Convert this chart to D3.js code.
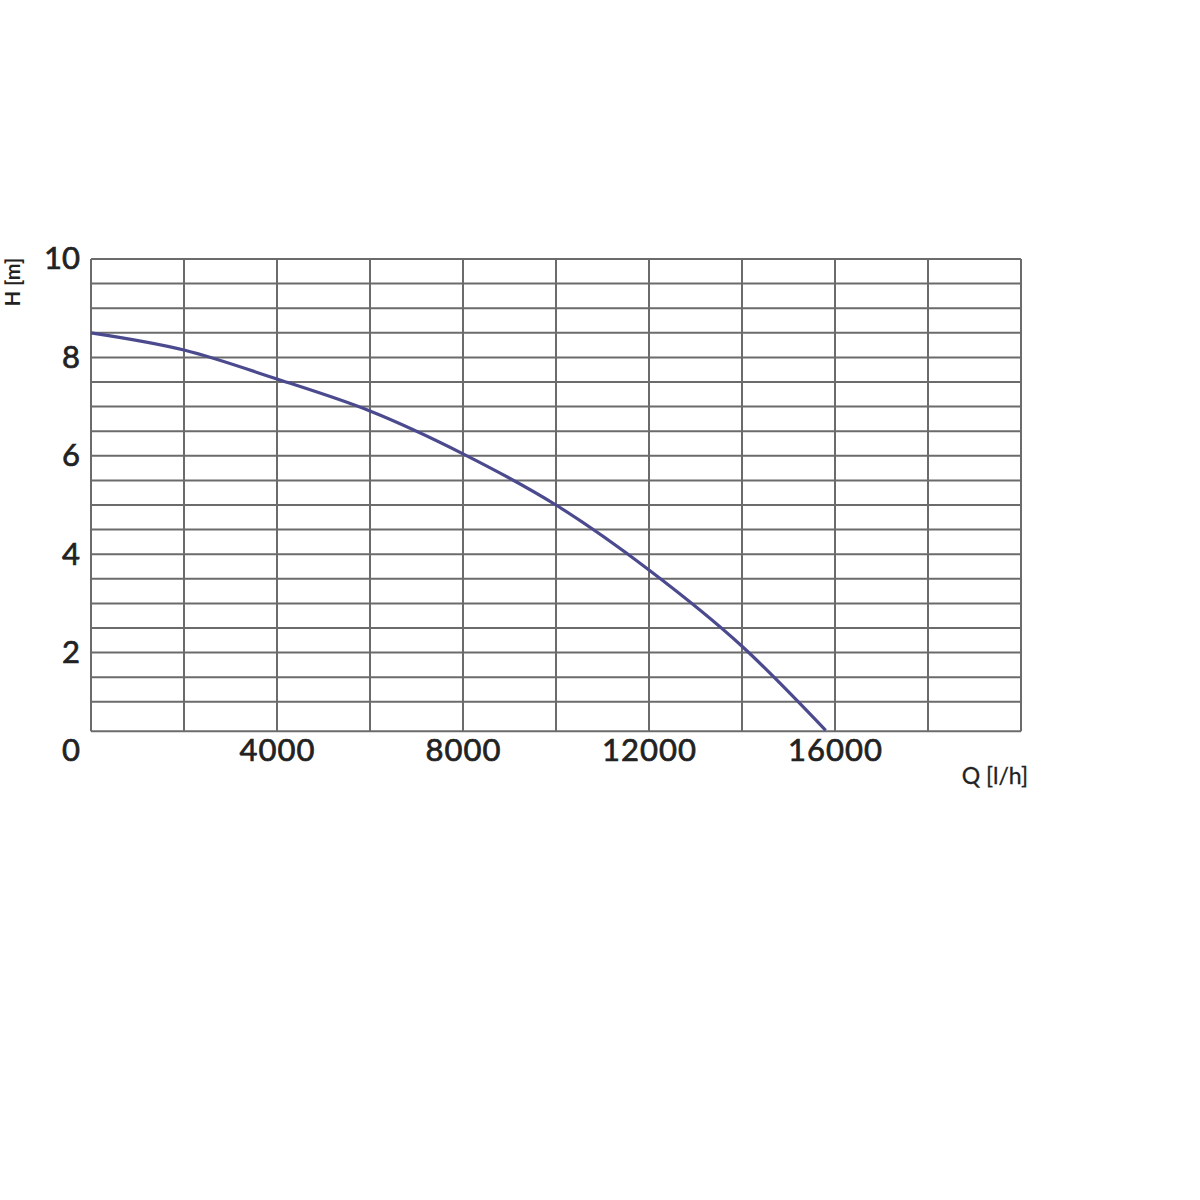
<!DOCTYPE html>
<html><head><meta charset="utf-8">
<script src="https://cdn.jsdelivr.net/npm/d3@7"></script>
<style>body{margin:0;background:#fff;} svg{display:block;}</style>
</head><body>
<svg id="c" width="1200" height="1200"></svg>
<script>
const flowQ = [0, 2000, 4000, 6000, 8000, 10000, 12000, 14000, 15800];
const headH = [8.5, 8.15, 7.56, 6.91, 6.04, 5.0, 3.68, 2.13, 0.42];
const xTickValues = [4000, 8000, 12000, 16000];
const yTickValues = [0, 2, 4, 6, 8, 10];
const xGridValues = [0, 2000, 4000, 6000, 8000, 10000, 12000, 14000, 16000, 18000, 20000];
const yGridValues = [1, 1.5, 2, 2.5, 3, 3.5, 4, 4.5, 5, 5.5, 6, 6.5, 7, 7.5, 8, 8.5, 9, 9.5, 10];
const yBottom = 0.4;

const svg = d3.select("#c");
const x = d3.scaleLinear().domain([0, 20000]).range([91, 1021]);
const y = d3.scaleLinear().domain([0, 10]).range([751, 259]);
const font = "Lato, 'Open Sans', sans-serif";

const grid = svg.append("g").attr("stroke", "#6b6b6b").attr("stroke-width", 2);
grid.selectAll("line.h").data(yGridValues).join("line")
  .attr("x1", x(0)).attr("x2", x(20000))
  .attr("y1", d => y(d)).attr("y2", d => y(d));
grid.selectAll("line.v").data(xGridValues).join("line")
  .attr("x1", d => x(d)).attr("x2", d => x(d))
  .attr("y1", y(10)).attr("y2", y(yBottom));
grid.append("line").attr("x1", x(0)).attr("x2", x(20000))
  .attr("y1", y(yBottom)).attr("y2", y(yBottom));

const line = d3.line().x((d, i) => x(flowQ[i])).y(d => y(d)).curve(d3.curveMonotoneX);
svg.append("path").datum(headH).attr("d", line)
  .attr("fill", "none").attr("stroke", "#4b4a8e").attr("stroke-width", 3.2);

// Y axis labels
const yAxis = d3.axisLeft(y).tickValues(yTickValues).tickSize(0).tickPadding(11);
const gy = svg.append("g").attr("transform", `translate(${x(0)},0)`).call(yAxis);
gy.select(".domain").remove();
gy.selectAll("text").attr("font-family", font).attr("font-size", 31).attr("fill", "#222")
  .attr("stroke", "#222").attr("stroke-width", 0.7);

// X axis labels
const xAxis = d3.axisBottom(x).tickValues(xTickValues).tickSize(0).tickPadding(8).tickFormat(d3.format("d"));
const gx = svg.append("g").attr("transform", `translate(0,${y(yBottom)})`).call(xAxis);
gx.select(".domain").remove();
gx.selectAll("text").attr("font-family", font).attr("font-size", 31).attr("fill", "#222")
  .attr("stroke", "#222").attr("stroke-width", 0.7).attr("letter-spacing", 1);

svg.append("text").attr("x", 1028).attr("y", 784).attr("text-anchor", "end")
  .attr("font-family", font).attr("font-size", 23).attr("fill", "#222")
  .attr("stroke", "#222").attr("stroke-width", 0.3).text("Q [l/h]");
svg.append("text").attr("transform", "translate(20,282) rotate(-90)").attr("text-anchor", "middle")
  .attr("font-family", font).attr("font-size", 20).attr("font-weight", "bold").attr("fill", "#222").text("H [m]");
</script>
</body></html>
